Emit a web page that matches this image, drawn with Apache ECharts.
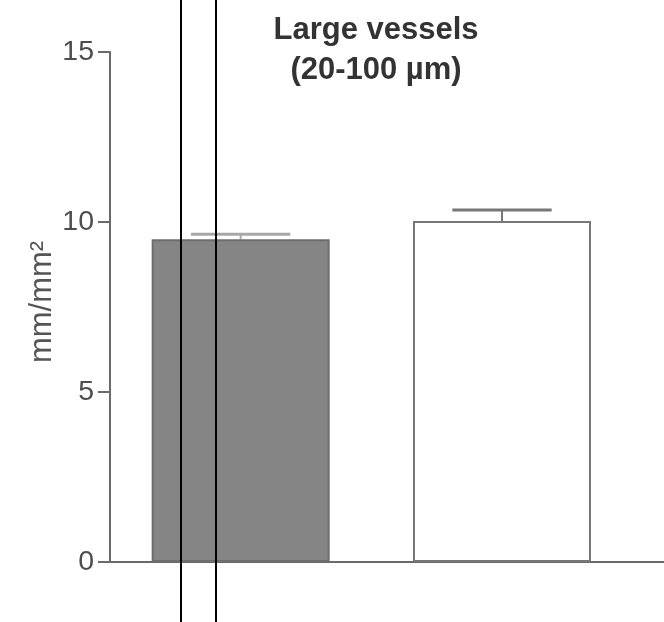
<!DOCTYPE html>
<html>
<head>
<meta charset="utf-8">
<script src="https://cdn.jsdelivr.net/npm/echarts@6/dist/echarts.min.js"></script>
<style>html,body{margin:0;padding:0;background:#fff;}#c{width:664px;height:622px;}</style>
</head>
<body>
<div id="c"></div>
<script>
var categories = ['Group A', 'Group B', ''];
var means = [9.49, 10.03, null];
var errors = [0.15, 0.32, null];
var yTicks = [0, 5, 10, 15];
var titleText = 'Large vessels\n(20-100 µm)';
var yName = 'mm/mm²';

var chart = echarts.init(document.getElementById('c'), null, {renderer: 'canvas'});
var barColors = ['#858585', '#ffffff'];
var barBorders = ['#6e6e6e', '#777777'];
var capColors = ['#a8a8a8', '#777777'];

var option = {
  backgroundColor: '#ffffff',
  animation: false,
  title: {
    text: titleText,
    left: 371, top: 5, textAlign: 'center',
    textStyle: {fontFamily: 'Liberation Sans', fontWeight: 'bold', fontSize: 31, color: '#333', lineHeight: 40}
  },
  grid: {left: 110, top: 52, bottom: 60, right: -230, outerBoundsMode: 'none', containLabel: false},
  xAxis: {
    type: 'category', data: categories,
    axisLine: {lineStyle: {color: '#6a6a6a', width: 2}},
    axisTick: {show: false}, axisLabel: {show: false}
  },
  yAxis: {
    type: 'value', min: yTicks[0], max: yTicks[yTicks.length - 1], interval: 5,
    name: yName, nameLocation: 'middle', nameGap: 52, nameRotate: 90, nameMoveOverlap: false,
    nameTextStyle: {fontFamily: 'Liberation Sans', fontSize: 31, color: '#555', padding: [0, 0, 0, 10]},
    axisLine: {show: true, lineStyle: {color: '#6a6a6a', width: 2}},
    axisTick: {show: true, length: 12, lineStyle: {color: '#6a6a6a', width: 2}},
    axisLabel: {fontFamily: 'Liberation Sans', fontSize: 28.5, color: '#4d4d4d', margin: 16},
    splitLine: {show: false}
  },
  series: [
    {
      type: 'custom',
      z: 1,
      renderItem: function (params, api) {
        var i = params.dataIndex;
        var v = api.value(1), e = api.value(2);
        var top = api.coord([i, v + e]);
        var base = api.coord([i, v]);
        var half = api.size([1, 0])[0] * 0.19;
        var c = capColors[i];
        return {type: 'group', children: [
          {type: 'line', shape: {x1: top[0], y1: top[1], x2: base[0], y2: base[1]}, style: {stroke: c, lineWidth: 2}},
          {type: 'line', shape: {x1: top[0] - half, y1: top[1], x2: top[0] + half, y2: top[1]}, style: {stroke: c, lineWidth: 3}}
        ]};
      },
      data: means.map(function (m, i) { return m == null ? null : [i, m, errors[i]]; }).filter(function (d) { return d; })
    },
    {
      type: 'bar', z: 2,
      barWidth: 178,
      data: means.map(function (m, i) {
        return m == null ? '-' : {value: m, itemStyle: {color: barColors[i], borderColor: barBorders[i], borderWidth: 2}};
      })
    }
  ],
  graphic: [
    {type: 'line', shape: {x1: 181, y1: 0, x2: 181, y2: 622}, style: {stroke: '#000', lineWidth: 2}, z: 100},
    {type: 'line', shape: {x1: 216, y1: 0, x2: 216, y2: 622}, style: {stroke: '#000', lineWidth: 2}, z: 100}
  ]
};
chart.setOption(option);
</script>
</body>
</html>
